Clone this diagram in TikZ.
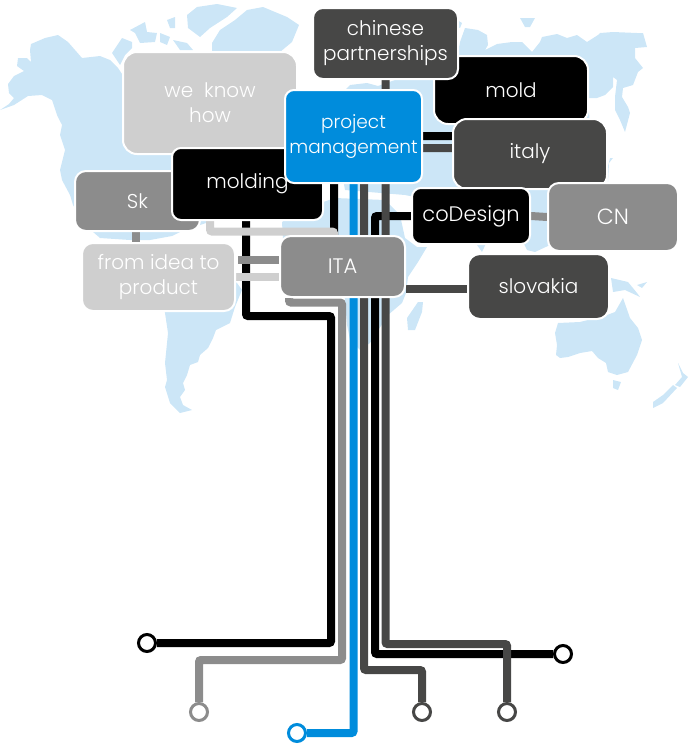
\documentclass[tikz,border=0pt]{standalone}
\usepackage{fontspec}
\setmainfont{Poppins Light}
\usetikzlibrary{positioning,calc}
\definecolor{mapcolor}{RGB}{204,230,247}
\definecolor{blackcolor}{RGB}{0,0,0}
\definecolor{darkcolor}{RGB}{71,71,70}
\definecolor{greycolor}{RGB}{140,140,140}
\definecolor{lightcolor}{RGB}{207,207,207}
\definecolor{bluecolor}{RGB}{0,140,220}
\pgfdeclarelayer{maplayer}
\pgfdeclarelayer{wirelayer}
\pgfsetlayers{maplayer,wirelayer,main}
\tikzset{
  box/.style={draw=white, line width=2pt, rounded corners=9pt, text=white, align=center, inner sep=0pt, font=\fontsize{20}{25}\selectfont},
  wire/.style={line width=8pt, rounded corners=2pt},
  tip/.style={circle, fill=white, line width=3pt, inner sep=0pt, minimum size=17pt},
  land/.style={fill=mapcolor, draw=none}
}
\begin{document}
\begin{tikzpicture}[x=1pt, y=-1pt]
  \useasboundingbox (0,0) rectangle (688,744);
  % Boxes, back to front
  \node[box, fill=lightcolor, rounded corners=14pt, minimum width=174pt, minimum height=102pt] (weknow) at (210,103) {we~~know\\how};
  \node[box, fill=greycolor, rounded corners=11pt, minimum width=125pt, minimum height=60pt] (sk) at (137.5,201) {Sk};
  \node[box, fill=lightcolor, rounded corners=11pt, minimum width=153pt, minimum height=68pt] (idea) at (158.5,277) {from~idea~to\\product};
  \node[box, fill=blackcolor, minimum width=151pt, minimum height=72pt] (molding) at (247.5,184) {molding};
  \node[box, fill=blackcolor, rounded corners=14pt, minimum width=154pt, minimum height=68pt] (mold) at (511,90) {mold};
  \node[box, fill=darkcolor, rounded corners=10pt, minimum width=145pt, minimum height=71pt] (chinese) at (385.5,43.5) {chinese\\partnerships};
  \node[box, fill=bluecolor, font=\fontsize{18.5}{25}\selectfont, minimum width=137pt, minimum height=93pt] (project) at (353.5,136.5) {project\\management};
  \node[box, fill=darkcolor, rounded corners=14pt, minimum width=154pt, minimum height=70pt] (italy) at (530,154) {italy};
  \node[box, fill=blackcolor, font=\fontsize{21}{25}\selectfont, minimum width=118pt, minimum height=56pt] (codesign) at (471,216) {coDesign};
  \node[box, fill=greycolor, font=\fontsize{22}{25}\selectfont, rounded corners=11pt, minimum width=130pt, minimum height=68pt] (cn) at (613,217) {CN};
  \node[box, fill=greycolor, font=\fontsize{21}{25}\selectfont, rounded corners=11pt, minimum width=125pt, minimum height=61pt] (ita) at (342.5,266.5) {ITA};
  \node[box, fill=darkcolor, rounded corners=12pt, minimum width=141pt, minimum height=65pt] (slovakia) at (538.5,286.5) {slovakia};
  % Line ends
  \node[tip, draw=blackcolor] (endmolding) at (147,643) {};
  \node[tip, draw=greycolor] (endita) at (199,712) {};
  \node[tip, draw=bluecolor] (endproject) at (297,733) {};
  \node[tip, draw=darkcolor] (enditaly) at (422,712) {};
  \node[tip, draw=darkcolor] (endchinese) at (507,712) {};
  \node[tip, draw=blackcolor] (endcodesign) at (563,654) {};
  % Bends of the lines
  \coordinate (busmolding) at (331,316);
  \coordinate (busita) at (342,302.5);
  \coordinate (turnita) at (199,660);
  \coordinate (busitaly) at (364,670);
  \coordinate (turnchinese) at (507,644);
  \coordinate (buscodesign) at (375,654);
  \coordinate (turnmold) at (334,136);
  \coordinate (turnknow) at (334,231.5);
  % Lines
  \begin{pgfonlayer}{wirelayer}
    \draw[wire, blackcolor] ([xshift=-1.5pt]molding.south) |- (busmolding) |- (endmolding);
    \draw[wire, blackcolor] (mold.south) |- (turnmold) -- (turnmold |- ita.north);
    \draw[wire, lightcolor] (weknow.south) |- (turnknow) -- (turnknow |- ita.north);
    \draw[wire, greycolor] ([xshift=-1.5pt]sk.south) -- ([xshift=-1.5pt]sk.south |- idea.north);
    \draw[wire, greycolor] ([yshift=6.5pt]ita.west) -- ([yshift=17pt, xshift=2pt]idea.east);
    \draw[wire, lightcolor] (idea.east) -- (idea.east -| ita.west);
    \draw[wire, greycolor] ([xshift=10pt]ita.south west) |- (busita) |- (turnita) -- (endita);
    \draw[wire, bluecolor] (project.south) |- (endproject);
    \draw[wire, darkcolor] ([yshift=6pt]italy.west) -| (busitaly) -| (enditaly);
    \draw[wire, blackcolor] (codesign.west) -| (buscodesign) -- (endcodesign);
    \draw[wire, darkcolor] (chinese.south) |- (turnchinese) -- (endchinese);
    \draw[wire, greycolor] (cn.west) -- (codesign.east);
    \draw[wire, darkcolor] ([yshift=-2pt]slovakia.west) -- ([yshift=-22pt]ita.east);
  \end{pgfonlayer}
  % World map
  \begin{pgfonlayer}{maplayer}
    % North and Central America
    \fill[land] (0,110) -- (9,104) -- (14,98) -- (9,93) -- (8,84) -- (14,76) -- (24,71) -- (17,66) -- (18,58) -- (27,58) -- (31,62) -- (30,50) -- (31,44) -- (45,38) -- (58,35) -- (68,42) -- (82,58) -- (100,56) -- (110,60) -- (118,68) -- (122,74) -- (200,100) -- (260,130) -- (230,215) -- (200,225) -- (180,232) -- (172,236) -- (150,240) -- (130,240) -- (100,238) -- (85,225) -- (73,205) -- (70,195) -- (62,180) -- (60,170) -- (65,150) -- (60,135) -- (62,125) -- (57,115) -- (52,100) -- (42,95) -- (28,96) -- (14,105) -- cycle;
    % Arctic islands and Greenland
    \fill[land] (112,53) -- (122,38) -- (132,42) -- (132,48) -- (125,55) -- (120,65) -- cycle;
    \fill[land] (130,30) -- (145,22) -- (147,32) -- (157,33) -- (155,42) -- (140,43) -- (135,33) -- cycle;
    \fill[land] (160,33) -- (170,37) -- (167,45) -- (160,42) -- cycle;
    \fill[land] (167,20) -- (175,17) -- (175,28) -- (170,28) -- cycle;
    \fill[land] (173,40) -- (187,43) -- (193,50) -- (180,50) -- cycle;
    \fill[land] (187,15) -- (197,7) -- (217,4) -- (237,8) -- (227,17) -- (210,28) -- (200,37) -- (188,28) -- cycle;
    \fill[land] (212,43) -- (220,30) -- (235,20) -- (247,10) -- (263,7) -- (287,17) -- (299,25) -- (292,42) -- (280,52) -- (270,60) -- (212,60) -- cycle;
    % South America
    \fill[land] (160,290) -- (165,313) -- (168,333) -- (165,363) -- (167,380) -- (165,387) -- (170,403) -- (180,413) -- (192,410) -- (183,405) -- (180,397) -- (185,390) -- (183,383) -- (187,375) -- (190,365) -- (198,362) -- (200,355) -- (208,348) -- (213,338) -- (216,330) -- (230,323) -- (235,307) -- (242,290) -- (237,283) -- (200,260) -- cycle;
    % Africa
    \fill[land] (282,222) -- (300,210) -- (335,198) -- (385,200) -- (400,215) -- (405,238) -- (417,247) -- (427,247) -- (418,262) -- (408,277) -- (406,293) -- (402,303) -- (388,315) -- (370,343) -- (360,350) -- (350,340) -- (347,325) -- (345,300) -- (340,270) -- (300,260) -- (283,240) -- cycle;
    \fill[land] (408,330) -- (407,318) -- (418,302) -- (423,302) -- (422,312) -- (415,330) -- cycle;
    % Eurasia
    \fill[land] (345,190) -- (338,150) -- (345,90) -- (350,85) -- (367,83) -- (378,86) -- (395,80) -- (440,70) -- (458,53) -- (460,42) -- (465,28) -- (478,30) -- (487,35) -- (488,45) -- (485,50) -- (497,44) -- (512,42) -- (522,42) -- (532,52) -- (540,42) -- (542,37) -- (557,34) -- (567,38) -- (577,35) -- (587,42) -- (598,35) -- (600,33) -- (613,32) -- (637,33) -- (643,33) -- (647,47) -- (635,48) -- (635,58) -- (643,68) -- (638,72) -- (633,85) -- (623,88) -- (622,97) -- (628,107) -- (630,113) -- (625,132) -- (620,120) -- (615,110) -- (615,97) -- (617,80) -- (613,77) -- (613,87) -- (605,95) -- (597,98) -- (588,98) -- (590,125) -- (600,150) -- (600,185) -- (590,200) -- (565,215) -- (550,245) -- (535,252) -- (527,250) -- (515,225) -- (500,215) -- (490,235) -- (482,252) -- (477,245) -- (465,225) -- (430,200) -- (405,195) -- cycle;
    \fill[land] (520,18) -- (535,18) -- (530,27) -- (525,27) -- cycle;
    \fill[land] (457,20) -- (462,23) -- (460,28) -- (457,27) -- cycle;
    \fill[land] (607,170) -- (610,158) -- (613,158) -- (609,163) -- (608,182) -- cycle;
    % Australia and the islands
    \fill[land] (555,333) -- (558,323) -- (580,322) -- (607,315) -- (615,312) -- (623,298) -- (630,318) -- (638,328) -- (642,340) -- (637,355) -- (628,372) -- (617,375) -- (608,372) -- (606,363) -- (598,358) -- (592,351) -- (580,353) -- (568,357) -- (560,358) -- (556,355) -- (557,345) -- cycle;
    \fill[land] (613,380) -- (621,382) -- (618,390) -- (613,388) -- cycle;
    \fill[land] (611,278) -- (628,282) -- (637,293) -- (640,297) -- (625,290) -- (613,292) -- cycle;
    \fill[land] (637,285) -- (647,282) -- (642,288) -- cycle;
    \fill[land] (678,363) -- (683,373) -- (688,377) -- (680,387) -- (675,385) -- (682,377) -- cycle;
    \fill[land] (673,385) -- (677,388) -- (663,403) -- (653,408) -- (653,402) -- (663,395) -- cycle;
  \end{pgfonlayer}
\end{tikzpicture}
\end{document}
